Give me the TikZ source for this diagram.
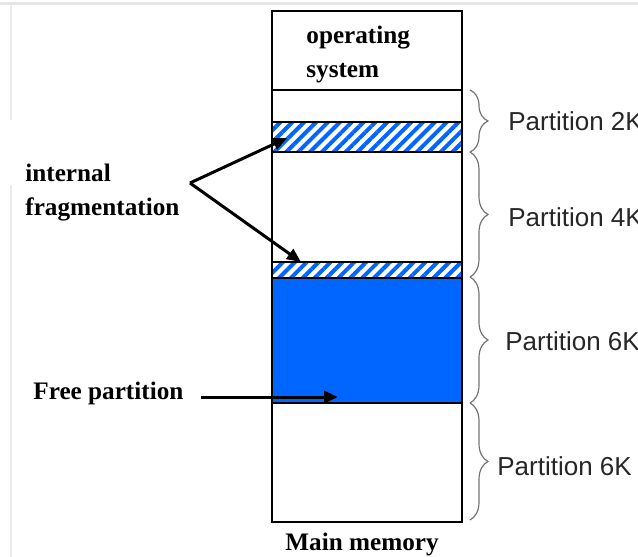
\documentclass[tikz,border=0pt]{standalone}
\usepackage{fontspec}
\setmainfont{Liberation Serif}
\setsansfont{Liberation Sans}
\usepackage{tikz}
\usetikzlibrary{arrows.meta}
\usetikzlibrary{patterns.meta}
\usetikzlibrary{decorations.pathreplacing}
\usetikzlibrary{calc}
\definecolor{memblue}{RGB}{0,102,255}
\tikzstyle{mem}=[draw,line width=1.3pt]
\tikzstyle{hatch}=[pattern={Lines[angle=45,distance=4.2pt,line width=2pt]},pattern color=memblue]
\tikzstyle{arr}=[line width=1.5pt,-{Triangle[length=7pt,width=6pt]}]
\tikzstyle{brc}=[draw=black!55,line width=0.6pt,decorate,decoration={brace,amplitude=9pt}]
\tikzstyle{lbl}=[inner sep=0pt,font=\fontsize{12.6}{17}\selectfont\bfseries,align=left]
\tikzstyle{part}=[inner sep=0pt,anchor=west,text=black!85,font=\fontsize{13}{15}\selectfont\sffamily]

\begin{document}
\begin{tikzpicture}[x=0.5pt,y=-0.5pt]
\useasboundingbox (0,0) rectangle (638,557);
\draw[black!10,line width=1.5pt] (0,3) -- (638,3);
\draw[black!8,line width=1pt] (11,5) -- (11,120) (11,185) -- (11,557);
% memory blocks
\fill[memblue] (272,278) rectangle (462,403);
\fill[hatch] (272,122) rectangle (462,152);
\fill[hatch] (272,262) rectangle (462,278);
\foreach \y in {90,122,152,262,278,403}
  \draw[mem] (272,\y) -- (462,\y);
\draw[mem] (272,11) rectangle (462,522);
\node[lbl,anchor=west] (os) at (306,54) {operating\\system};
\node[lbl] (mm) at (362,544) {Main memory};
% partitions
\draw[brc] (470,90) -- (470,152);
\draw[brc] (470,152) -- (470,277);
\draw[brc] (470,277) -- (470,403);
\draw[brc] (470,403) -- (470,520);
\node[part] (p1) at (508,121) {Partition 2K};
\node[part] (p2) at (508,217) {Partition 4K};
\node[part] (p3) at (505,341) {Partition 6K};
\node[part] (p4) at (497,466) {Partition 6K};
% labels and arrows
\node[lbl,anchor=west] (frag) at (25,193) {internal\\fragmentation};
\node[lbl,anchor=west] (free) at (33,393) {Free partition};
\coordinate (v) at (190,183);
\coordinate (h1) at (287,138);
\coordinate (h2) at (301,262);
\coordinate (fp) at (338,397);
\draw[arr] (v) -- (h1);
\draw[arr] (v) -- (h2);
\draw[arr] (free.east) ++(17,4) -- (fp);

\end{tikzpicture}
\end{document}
